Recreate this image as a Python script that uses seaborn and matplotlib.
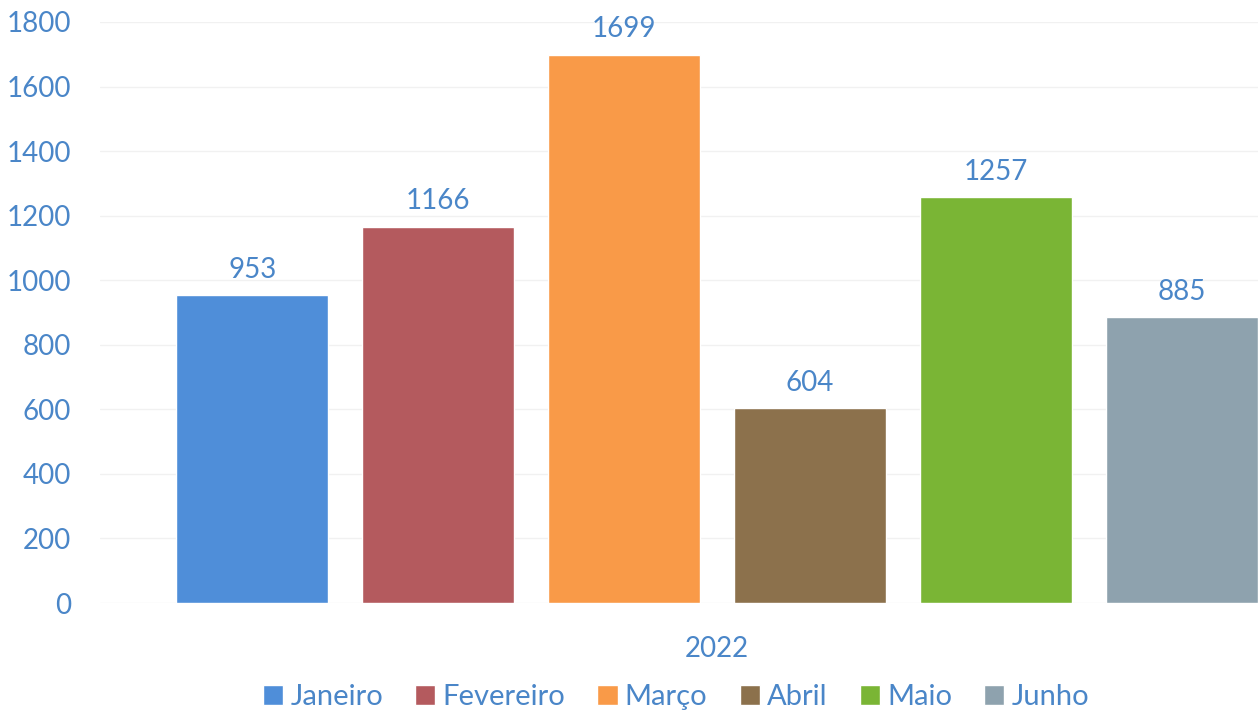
import matplotlib
matplotlib.use("Agg")
import matplotlib.pyplot as plt
import seaborn as sns
import pandas as pd

months = ["Janeiro", "Fevereiro", "Março", "Abril", "Maio", "Junho"]
values = [953, 1166, 1699, 604, 1257, 885]
year = "2022"
colors = ["#4f8ed9", "#b45a5e", "#f99a48", "#8c714c", "#7ab535", "#8ea2ae"]
yticks = [0, 200, 400, 600, 800, 1000, 1200, 1400, 1600, 1800]

sns.set_theme(style="white")
plt.rcParams["font.family"] = ["Lato", "DejaVu Sans"]
text_color = "#4a86c8"

df = pd.DataFrame({"year": [year] * len(months), "month": months, "value": values})

fig = plt.figure(figsize=(12.58, 7.21), dpi=100)
ax = fig.add_axes([100 / 1258, 1 - 603 / 721, 1234 / 1258, (603 - 22) / 721])

sns.barplot(data=df, x="year", y="value", hue="month", hue_order=months,
            palette=colors, width=0.904, gap=0.183, saturation=1,
            ax=ax, legend=True)

ax.set_xlim(-0.5, 0.5)
ax.set_ylim(0, 1800)
ax.set_yticks(yticks)
ax.yaxis.grid(True, color="#f1f1f1", linewidth=1)
ax.set_axisbelow(True)
for s in ax.spines.values():
    s.set_visible(False)
ax.set_xlabel("")
ax.set_ylabel("")
ax.tick_params(axis="y", length=0, pad=21, labelsize=20, labelcolor=text_color)
ax.tick_params(axis="x", length=0, pad=24, labelsize=20, labelcolor=text_color)

for c in ax.containers:
    ax.bar_label(c, padding=9, fontsize=20, color=text_color)

handles, labels = ax.get_legend_handles_labels()
ax.get_legend().remove()
fig.legend(handles, labels, loc="center", bbox_to_anchor=(676 / 1258, 1 - 697 / 721),
           ncol=6, frameon=False, fontsize=21, labelcolor=text_color,
           handlelength=0.69, handleheight=0.69, handletextpad=0.25, columnspacing=1.1)

fig.savefig("out.png", dpi=100)
